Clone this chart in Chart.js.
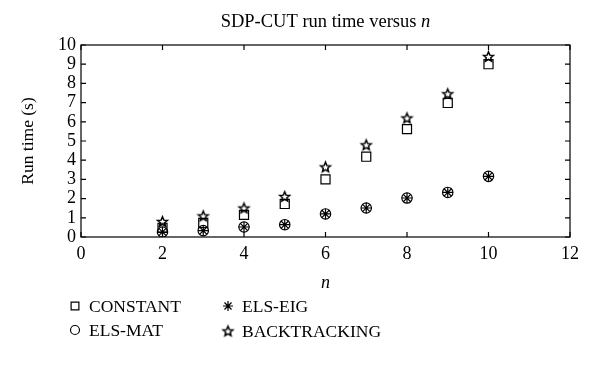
<!DOCTYPE html>
<html>
<head>
<meta charset="utf-8">
<script src="https://cdn.jsdelivr.net/npm/chart.js@4"></script>
<style>
  html, body { margin: 0; padding: 0; background: #fff; }
  #wrap { width: 600px; height: 391px; }
</style>
</head>
<body>
<div id="wrap"><canvas id="grafico" width="600" height="391"></canvas></div>
<script>
// dados
const nValores = [2, 3, 4, 5, 6, 7, 8, 9, 10];
const constante = [0.48, 0.73, 1.15, 1.72, 3.0, 4.18, 5.62, 6.98, 9.0];
const elsMat = [0.26, 0.33, 0.52, 0.64, 1.2, 1.51, 2.03, 2.32, 3.16];
const elsEig = [0.26, 0.33, 0.52, 0.64, 1.2, 1.51, 2.03, 2.32, 3.16];
const backtracking = [0.81, 1.1, 1.51, 2.11, 3.65, 4.8, 6.2, 7.46, 9.4];
const xTicks = [0, 2, 4, 6, 8, 10, 12];
const yTicks = [0, 1, 2, 3, 4, 5, 6, 7, 8, 9, 10];

const fonte = '"Liberation Serif", "DejaVu Serif", serif';

function pares(ys) {
    return nValores.map((n, i) => ({ x: n, y: ys[i] }));
}

// estrela de 5 pontas (so contorno)
function criarEstrela(r) {
    var c = document.createElement('canvas');
    var s = Math.ceil(r * 2 + 4);
    c.width = s; c.height = s;
    var ctx = c.getContext('2d');
    ctx.strokeStyle = '#000';
    ctx.lineWidth = 1.5;
    ctx.beginPath();
    for (let i = 0; i < 10; i++) {
        const ang = -Math.PI / 2 + i * Math.PI / 5;
        const rr = i % 2 === 0 ? r : r * 0.45;
        const px = s / 2 + rr * Math.cos(ang);
        const py = s / 2 + rr * Math.sin(ang) + r * 0.1;
        if (i === 0) ctx.moveTo(px, py); else ctx.lineTo(px, py);
    }
    ctx.closePath();
    ctx.stroke();
    return c;
}
const estrela = criarEstrela(5.2);

const ESQ = 81, DIR = 570, TOPO = 45, BASE = 237;

const pluginMoldura = {
    id: 'moldura',
    afterDraw(chart) {
        const ctx = chart.ctx;
        const a = chart.chartArea;
        const sx = chart.scales.x, sy = chart.scales.y;
        ctx.save();
        ctx.strokeStyle = '#000';
        ctx.lineWidth = 1.2;
        ctx.strokeRect(a.left, a.top, a.right - a.left, a.bottom - a.top);
        const t = 5;
        ctx.beginPath();
        xTicks.forEach(v => {
            const px = sx.getPixelForValue(v);
            ctx.moveTo(px, a.bottom); ctx.lineTo(px, a.bottom - t);
            ctx.moveTo(px, a.top); ctx.lineTo(px, a.top + t);
        });
        yTicks.forEach(v => {
            const py = sy.getPixelForValue(v);
            ctx.moveTo(a.left, py); ctx.lineTo(a.left + t, py);
            ctx.moveTo(a.right, py); ctx.lineTo(a.right - t, py);
        });
        ctx.stroke();

        ctx.fillStyle = '#000';
        // titulo com n em italico
        const parte1 = 'SDP-CUT run time versus ';
        ctx.font = '18.5px ' + fonte;
        const w1 = ctx.measureText(parte1).width;
        ctx.font = 'italic 18.5px ' + fonte;
        const w2 = ctx.measureText('n').width;
        let x0 = (a.left + a.right) / 2 - (w1 + w2) / 2;
        ctx.textBaseline = 'alphabetic';
        ctx.textAlign = 'left';
        ctx.font = '18.5px ' + fonte;
        ctx.fillText(parte1, x0, 27);
        ctx.font = 'italic 18.5px ' + fonte;
        ctx.fillText('n', x0 + w1, 27);

        // titulo eixo x
        ctx.textAlign = 'center';
        ctx.font = 'italic 18px ' + fonte;
        ctx.fillText('n', (a.left + a.right) / 2, 288);

        // titulo eixo y
        ctx.save();
        ctx.translate(33, (a.top + a.bottom) / 2);
        ctx.rotate(-Math.PI / 2);
        ctx.font = '17.5px ' + fonte;
        ctx.fillText('Run time (s)', 0, 0);
        ctx.restore();

        // legenda
        const itens = [
            { txt: 'CONSTANT', estilo: 'rect', r: 5.5, x: 75, y: 306 },
            { txt: 'ELS-MAT', estilo: 'circle', r: 4.5, x: 75, y: 330 },
            { txt: 'ELS-EIG', estilo: 'star', r: 5, x: 228, y: 306 },
            { txt: 'BACKTRACKING', estilo: estrela, r: 5, x: 228, y: 331 }
        ];
        ctx.textAlign = 'left';
        ctx.textBaseline = 'middle';
        ctx.font = '17.5px ' + fonte;
        itens.forEach(it => {
            ctx.strokeStyle = '#000';
            ctx.fillStyle = 'rgba(0,0,0,0)';
            ctx.lineWidth = 1.2;
            Chart.helpers.drawPoint(ctx, { pointStyle: it.estilo, radius: it.r, rotation: 0, borderWidth: 1.2 }, it.x, it.y);
            ctx.fillStyle = '#000';
            ctx.fillText(it.txt, it.x + 14, it.y + 1);
        });
        ctx.restore();
    }
};

const base = {
    showLine: false,
    backgroundColor: 'rgba(0,0,0,0)',
    borderColor: '#000',
    borderWidth: 1.2
};

new Chart(document.getElementById('grafico').getContext('2d'), {
    type: 'scatter',
    data: {
        datasets: [
            Object.assign({ label: 'CONSTANT', data: pares(constante), pointStyle: 'rect', pointRadius: 6.4 }, base),
            Object.assign({ label: 'ELS-MAT', data: pares(elsMat), pointStyle: 'circle', pointRadius: 5.2 }, base),
            Object.assign({ label: 'ELS-EIG', data: pares(elsEig), pointStyle: 'star', pointRadius: 5.2 }, base),
            Object.assign({ label: 'BACKTRACKING', data: pares(backtracking), pointStyle: estrela, pointRadius: 5 }, base)
        ]
    },
    options: {
        responsive: false,
        animation: false,
        layout: { padding: { left: 0, right: 600 - DIR, top: TOPO, bottom: 0 } },
        plugins: { legend: { display: false }, tooltip: { enabled: false }, title: { display: false } },
        scales: {
            x: {
                type: 'linear', min: 0, max: 12,
                afterFit(scale) { scale.height = 391 - BASE; },
                afterBuildTicks(scale) { scale.ticks = xTicks.map(v => ({ value: v })); },
                grid: { display: false, drawTicks: false },
                border: { display: false },
                ticks: { color: '#000', font: { family: fonte, size: 18 }, padding: 6, maxRotation: 0, autoSkip: false }
            },
            y: {
                type: 'linear', min: 0, max: 10,
                afterFit(scale) { scale.width = ESQ; },
                afterBuildTicks(scale) { scale.ticks = yTicks.map(v => ({ value: v })); },
                grid: { display: false, drawTicks: false },
                border: { display: false },
                ticks: { color: '#000', font: { family: fonte, size: 18 }, padding: 5, autoSkip: false }
            }
        }
    },
    plugins: [pluginMoldura]
});
</script>
</body>
</html>
